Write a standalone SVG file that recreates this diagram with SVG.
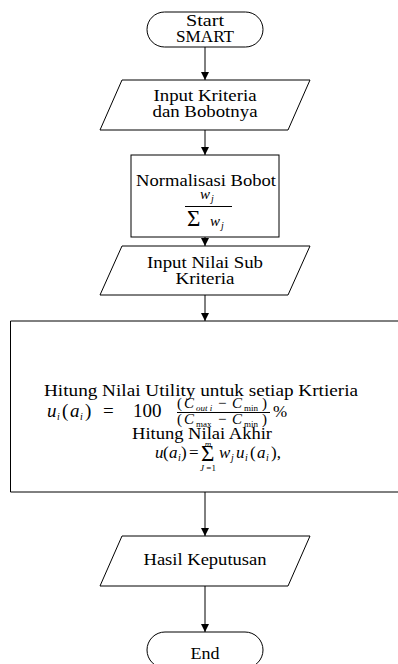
<svg xmlns="http://www.w3.org/2000/svg" width="398" height="664" viewBox="0 0 398 664">
<style>
.shape{fill:#fff;stroke:#000;stroke-width:1}
.t{font-family:"Liberation Serif","Times New Roman",serif;font-size:16px;fill:#000;text-anchor:middle}
.m{font-family:"Liberation Serif","Times New Roman",serif;font-size:17px;fill:#000}
.b{font-family:"Liberation Serif","Times New Roman",serif;font-size:19px;fill:#000}
.n{font-family:"Liberation Serif","Times New Roman",serif;font-size:15px;fill:#000}
.i{font-style:italic}
.s{font-family:"Liberation Serif","Times New Roman",serif;font-size:10px;fill:#000}
.x{font-family:"Liberation Serif","Times New Roman",serif;font-size:9px;fill:#000}
.sig{font-family:"Liberation Serif","Times New Roman",serif;font-size:23px;fill:#000}
.conn{stroke:#000;stroke-width:1;fill:none;marker-end:url(#arr)}
.bar{stroke:#000;stroke-width:1}
</style>
<defs>
<marker id="arr" markerUnits="userSpaceOnUse" markerWidth="8" markerHeight="8" refX="8" refY="4" orient="auto">
<path d="M0,0 L8,4 L0,8 z" fill="#000"/>
</marker>
</defs>
<g id="connectors">
<line class="conn" x1="205" y1="47" x2="205" y2="80"/>
<line class="conn" x1="205" y1="130" x2="205" y2="155"/>
<line class="conn" x1="205" y1="237" x2="205" y2="246"/>
<line class="conn" x1="205" y1="295" x2="205" y2="321"/>
<line class="conn" x1="205" y1="492" x2="205" y2="536"/>
<line class="conn" x1="205" y1="586" x2="205" y2="632"/>
</g>
<g id="start">
<rect class="shape" x="147" y="12" width="116" height="35" rx="17.5" ry="17.5"/>
<text class="t" x="205" y="26" textLength="38" lengthAdjust="spacingAndGlyphs">Start</text>
<text class="t" x="205" y="42" textLength="58" lengthAdjust="spacingAndGlyphs">SMART</text>
</g>
<g id="input-kriteria">
<polygon class="shape" points="122,80 310,80 288,130 100,130"/>
<text class="t" x="205" y="101" textLength="103" lengthAdjust="spacingAndGlyphs">Input Kriteria</text>
<text class="t" x="205" y="117" textLength="105" lengthAdjust="spacingAndGlyphs">dan Bobotnya</text>
</g>
<g id="normalisasi">
<rect class="shape" x="131" y="155" width="148" height="82"/>
<text class="t" x="206" y="186" textLength="140" lengthAdjust="spacingAndGlyphs">Normalisasi Bobot</text>
<text class="n i" x="200" y="199">w</text><text class="s i" x="211" y="202">j</text>
<line class="bar" x1="185" y1="206.5" x2="232" y2="206.5"/>
<text class="sig" x="187" y="226">Σ</text>
<text class="n i" x="210" y="226">w</text><text class="s i" x="221" y="229">j</text>
</g>
<g id="input-sub">
<polygon class="shape" points="122,246 310,246 288,295 100,295"/>
<text class="t" x="205" y="268" textLength="116" lengthAdjust="spacingAndGlyphs">Input Nilai Sub</text>
<text class="t" x="205" y="284" textLength="59" lengthAdjust="spacingAndGlyphs">Kriteria</text>
</g>
<g id="hitung">
<path d="M402,321 H10.5 V492 H402" fill="#fff" stroke="#000" stroke-width="1"/>
<text class="t" x="201" y="396" textLength="314" lengthAdjust="spacingAndGlyphs">Hitung Nilai Utility untuk setiap Krtieria</text>
<text class="b i" x="47" y="417">u</text><text class="s i" x="57" y="420">i</text>
<text class="b" x="62" y="417">(</text><text class="b i" x="70" y="417">a</text><text class="s i" x="80" y="420">i</text><text class="b" x="85" y="417">)</text>
<text class="b" x="103" y="417">=</text>
<text class="b" x="133" y="417" font-size="20">100</text>
<text class="n" x="177" y="408">(</text><text class="n i" x="184" y="408">C</text><text class="x i" x="196" y="411">out i</text>
<text class="n" x="218" y="408">−</text><text class="n i" x="232" y="408">C</text><text class="x" x="244" y="411">min</text><text class="n" x="262" y="408">)</text>
<line class="bar" x1="177" y1="412.5" x2="270" y2="412.5"/>
<text class="n" x="177" y="424">(</text><text class="n i" x="184" y="424">C</text><text class="x" x="196" y="427">max</text>
<text class="n" x="218" y="424">−</text><text class="n i" x="232" y="424">C</text><text class="x" x="244" y="427">min</text><text class="n" x="262" y="424">)</text>
<text class="m" x="273" y="417">%</text>
<text class="t" x="202" y="439" textLength="140" lengthAdjust="spacingAndGlyphs">Hitung Nilai Akhir</text>
<text class="m i" x="155" y="458">u</text><text class="m" x="163" y="458">(</text><text class="m i" x="169" y="458">a</text><text class="s i" x="178" y="461">i</text><text class="m" x="181" y="458">)</text>
<text class="m" x="189" y="458">=</text>
<text class="sig" x="201" y="461">Σ</text>
<text class="x i" x="208" y="447" text-anchor="middle">m</text>
<text class="x" x="208" y="471" text-anchor="middle"><tspan font-style="italic">J</tspan> =1</text>
<text class="m i" x="219" y="458">w</text><text class="s i" x="231" y="461">j</text>
<text class="m i" x="236" y="458">u</text><text class="s i" x="245" y="461">i</text>
<text class="m" x="250" y="458">(</text><text class="m i" x="257" y="458">a</text><text class="s i" x="266" y="461">i</text><text class="m" x="271" y="458">),</text>
</g>
<g id="hasil">
<polygon class="shape" points="122,536 310,536 288,586 100,586"/>
<text class="t" x="205" y="565" textLength="123" lengthAdjust="spacingAndGlyphs">Hasil Keputusan</text>
</g>
<g id="end">
<rect class="shape" x="147" y="632" width="116" height="36" rx="18" ry="18"/>
<text class="t" x="205" y="659" textLength="29" lengthAdjust="spacingAndGlyphs">End</text>
</g>
</svg>
